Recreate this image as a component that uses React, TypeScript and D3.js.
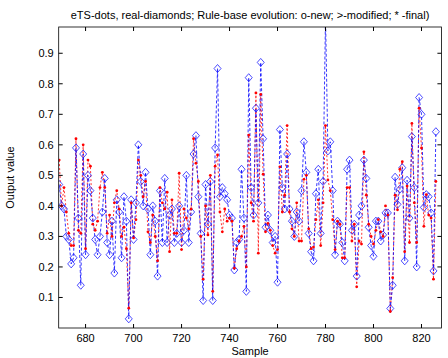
import { useEffect, useRef } from "react";
import * as d3 from "d3";

const startSample = 669;

// real output (blue diamonds)
const realValues = [
  0.47, 0.40, 0.39, 0.30, 0.29, 0.21, 0.23, 0.59, 0.36, 0.14,
  0.57, 0.24, 0.50, 0.45, 0.36, 0.29, 0.24, 0.30, 0.38, 0.49,
  0.28, 0.24, 0.35, 0.18, 0.42, 0.38, 0.23, 0.43, 0.35, 0.03,
  0.42, 0.29, 0.41, 0.60, 0.48, 0.40, 0.51, 0.39, 0.24, 0.40,
  0.35, 0.17, 0.45, 0.28, 0.49, 0.28, 0.37, 0.39, 0.28, 0.31,
  0.40, 0.28, 0.32, 0.50, 0.28, 0.38, 0.57, 0.63, 0.43, 0.31,
  0.09, 0.47, 0.34, 0.48, 0.09, 0.59, 0.85, 0.43, 0.46, 0.44,
  0.42, 0.37, 0.36, 0.19, 0.28, 0.29, 0.52, 0.36, 0.12, 0.82,
  0.46, 0.37, 0.72, 0.41, 0.87, 0.62, 0.33, 0.37, 0.32, 0.28,
  0.30, 0.15, 0.65, 0.46, 0.39, 0.57, 0.39, 0.35, 0.30, 0.38,
  0.35, 0.45, 0.61, 0.51, 0.31, 0.25, 0.22, 0.44, 0.52, 0.31,
  0.48, 1.02, 0.58, 0.61, 0.45, 0.24, 0.35, 0.34, 0.28, 0.22,
  0.52, 0.55, 0.32, 0.34, 0.17, 0.37, 0.40, 0.55, 0.49, 0.33,
  0.27, 0.235, 0.35, 0.35, 0.285, 0.305, 0.377, 0.377, 0.064, 0.14,
  0.494, 0.405, 0.455, 0.525, 0.22, 0.484, 0.36, 0.627, 0.46, 0.20,
  0.755, 0.70, 0.395, 0.437, 0.43, 0.377, 0.187, 0.643,
];

// eTS prediction (red dots)
const etsValues = [
  0.55, 0.40, 0.46, 0.38, 0.31, 0.27, 0.27, 0.62, 0.32, 0.31,
  0.60, 0.26, 0.55, 0.53, 0.34, 0.32, 0.35, 0.46, 0.51, 0.46,
  0.31, 0.37, 0.30, 0.41, 0.45, 0.39, 0.30, 0.33, 0.26, 0.065,
  0.41, 0.295, 0.355, 0.55, 0.50, 0.43, 0.48, 0.315, 0.28, 0.37,
  0.30, 0.22, 0.46, 0.41, 0.39, 0.445, 0.25, 0.42, 0.31, 0.31,
  0.507, 0.257, 0.39, 0.36, 0.325, 0.39, 0.62, 0.54, 0.48, 0.30,
  0.16, 0.40, 0.305, 0.50, 0.12, 0.53, 0.567, 0.38, 0.315, 0.39,
  0.35, 0.36, 0.35, 0.196, 0.26, 0.285, 0.30, 0.333, 0.20, 0.632,
  0.41, 0.35, 0.77, 0.245, 0.765, 0.504, 0.315, 0.343, 0.32, 0.27,
  0.245, 0.257, 0.528, 0.38, 0.435, 0.663, 0.38, 0.325, 0.30, 0.41,
  0.285, 0.285, 0.487, 0.50, 0.325, 0.26, 0.265, 0.355, 0.42, 0.27,
  0.41, 0.663, 0.485, 0.45, 0.355, 0.257, 0.35, 0.34, 0.23, 0.23,
  0.46, 0.46, 0.285, 0.34, 0.135, 0.285, 0.275, 0.577, 0.435, 0.34,
  0.30, 0.275, 0.32, 0.355, 0.315, 0.30, 0.40, 0.37, 0.054, 0.165,
  0.435, 0.387, 0.52, 0.545, 0.25, 0.465, 0.28, 0.67, 0.41, 0.28,
  0.72, 0.59, 0.333, 0.437, 0.37, 0.36, 0.16, 0.48,
];

const xTicks = [680, 700, 720, 740, 760, 780, 800, 820];
const yTicks = [0.1, 0.2, 0.3, 0.4, 0.5, 0.6, 0.7, 0.8, 0.9];

const titleText =
  "eTS-dots, real-diamonds; Rule-base evolution: o-new; >-modified; * -final)";

function OutputChart({ width, height }) {
  const ref = useRef();

  useEffect(() => {
    const margin = { left: 58.7, top: 27, right: 6.6, bottom: 30 };
    const inner = {
      width: width - margin.left - margin.right,
      height: height - margin.top - margin.bottom,
    };
    const font = "Liberation Sans, Arial, sans-serif";

    const el = d3.select(ref.current);
    el.selectAll("*").remove();

    const x = d3.scaleLinear().domain([668.8, 828.3]).range([0, inner.width]);
    const y = d3.scaleLinear().domain([0, 0.986]).range([inner.height, 0]);

    const real = realValues.map((v, i) => ({ s: startSample + i, v }));
    const ets = etsValues.map((v, i) => ({ s: startSample + i, v }));

    el.append("defs")
      .append("clipPath")
      .attr("id", "plot-clip")
      .append("rect")
      .attr("width", inner.width)
      .attr("height", inner.height);

    const chart = el
      .append("g")
      .attr("transform", `translate(${margin.left}, ${margin.top})`);

    chart
      .append("rect")
      .attr("width", inner.width)
      .attr("height", inner.height)
      .attr("fill", "#ffffff");

    const plot = chart.append("g").attr("clip-path", "url(#plot-clip)");

    const line = d3
      .line()
      .x((d) => x(d.s))
      .y((d) => y(d.v));

    plot
      .append("path")
      .datum(ets)
      .attr("d", line)
      .attr("fill", "none")
      .attr("stroke", "#ff0000")
      .attr("stroke-width", 0.8)
      .attr("stroke-dasharray", "2,2");

    plot
      .append("path")
      .datum(real)
      .attr("d", line)
      .attr("fill", "none")
      .attr("stroke", "#0000ff")
      .attr("stroke-width", 0.8)
      .attr("stroke-dasharray", "3,2");

    // diamonds
    plot
      .selectAll(".diamond")
      .data(real)
      .enter()
      .append("path")
      .attr("class", "diamond")
      .attr("d", (d) => {
        const cx = x(d.s);
        const cy = y(d.v);
        return `M${cx},${cy - 4}L${cx + 3.5},${cy}L${cx},${cy + 4}L${cx - 3.5},${cy}Z`;
      })
      .attr("fill", "none")
      .attr("stroke", "#1f1fff")
      .attr("stroke-width", 0.8);

    // dots
    plot
      .selectAll(".dot")
      .data(ets)
      .enter()
      .append("circle")
      .attr("class", "dot")
      .attr("cx", (d) => x(d.s))
      .attr("cy", (d) => y(d.v))
      .attr("r", 1.4)
      .attr("fill", "#ff0000");

    // axes box
    chart
      .append("rect")
      .attr("width", inner.width)
      .attr("height", inner.height)
      .attr("fill", "none")
      .attr("stroke", "#000000")
      .attr("stroke-width", 0.8);

    const tickLen = 4;
    for (const t of xTicks) {
      chart
        .append("line")
        .attr("x1", x(t))
        .attr("x2", x(t))
        .attr("y1", inner.height)
        .attr("y2", inner.height - tickLen)
        .attr("stroke", "#000");
      chart
        .append("line")
        .attr("x1", x(t))
        .attr("x2", x(t))
        .attr("y1", 0)
        .attr("y2", tickLen)
        .attr("stroke", "#000");
      chart
        .append("text")
        .attr("x", x(t))
        .attr("y", inner.height + 14)
        .attr("text-anchor", "middle")
        .attr("font-family", font)
        .attr("font-size", 11)
        .text(t + "");
    }

    for (const t of yTicks) {
      chart
        .append("line")
        .attr("x1", 0)
        .attr("x2", tickLen)
        .attr("y1", y(t))
        .attr("y2", y(t))
        .attr("stroke", "#000");
      chart
        .append("line")
        .attr("x1", inner.width)
        .attr("x2", inner.width - tickLen)
        .attr("y1", y(t))
        .attr("y2", y(t))
        .attr("stroke", "#000");
      chart
        .append("text")
        .attr("x", -5)
        .attr("y", y(t) + 4)
        .attr("text-anchor", "end")
        .attr("font-family", font)
        .attr("font-size", 11)
        .text(t.toFixed(1));
    }

    // labels
    el.append("text")
      .attr("x", margin.left + inner.width / 2)
      .attr("y", 19)
      .attr("text-anchor", "middle")
      .attr("font-family", font)
      .attr("font-size", 11)
      .text(titleText);

    el.append("text")
      .attr("x", margin.left + inner.width / 2)
      .attr("y", height - 3)
      .attr("text-anchor", "middle")
      .attr("font-family", font)
      .attr("font-size", 11)
      .text("Sample");

    el.append("text")
      .attr(
        "transform",
        `translate(14, ${margin.top + inner.height / 2}) rotate(-90)`
      )
      .attr("text-anchor", "middle")
      .attr("font-family", font)
      .attr("font-size", 11)
      .text("Output value");
  }, [width, height]);

  return (
    <svg
      ref={ref}
      width={width}
      height={height}
      style={{ position: "absolute", left: 0, top: 0, background: "#fff" }}
    />
  );
}

export default function App() {
  return <OutputChart width={448} height={358} />;
}
